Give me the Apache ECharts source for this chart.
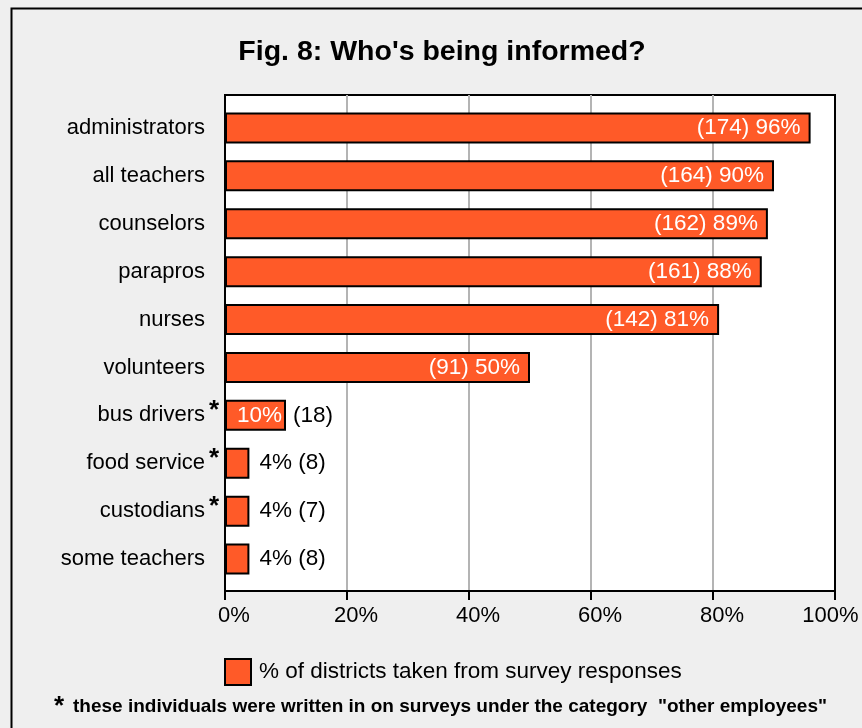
<!DOCTYPE html>
<html>
<head>
<meta charset="utf-8">
<script src="https://cdn.jsdelivr.net/npm/echarts@6/dist/echarts.min.js"></script>
<style>
  html, body { margin: 0; padding: 0; background: #EFEFEF; }
  #chart { width: 862px; height: 728px; }
</style>
</head>
<body>
<div id="chart"></div>
<script>
// Staff groups informed, top to bottom
const categories = ['administrators', 'all teachers', 'counselors', 'parapros', 'nurses',
  'volunteers', 'bus drivers', 'food service', 'custodians', 'some teachers'];
// Percent of districts
const percents = [96, 90, 89, 88, 81, 50, 10, 4, 4, 4];
// Number of districts
const counts = [174, 164, 162, 161, 142, 91, 18, 8, 7, 8];
// Groups written in under "other employees"
const writeIns = ['bus drivers', 'food service', 'custodians'];
const xTicks = [0, 20, 40, 60, 80, 100];

const FONT = '"Liberation Sans", Arial, sans-serif';
const BAR = '#FF5A28';

const chart = echarts.init(document.getElementById('chart'), null, { renderer: 'canvas' });

// Label text shown inside the bar and beside it
function insideText(i) {
  if (percents[i] >= 50) return '(' + counts[i] + ') ' + percents[i] + '%';
  if (percents[i] >= 10) return percents[i] + '%';
  return '';
}
function outsideText(i) {
  if (percents[i] >= 50) return '';
  if (percents[i] >= 10) return '(' + counts[i] + ')';
  return percents[i] + '% (' + counts[i] + ')';
}

const mainData = percents.map((v, i) => ({
  value: v,
  label: {
    show: insideText(i) !== '',
    position: 'insideRight',
    distance: percents[i] >= 50 ? 10 : 4,
    formatter: () => insideText(i)
  }
}));

const outsideData = percents.map((v, i) => ({
  value: v,
  label: {
    show: outsideText(i) !== '',
    position: 'right',
    distance: percents[i] >= 10 ? 7 : 10,
    formatter: () => outsideText(i)
  }
}));

const xMax = xTicks[xTicks.length - 1];

const option = {
  backgroundColor: '#EFEFEF',
  animation: false,
  textStyle: { fontFamily: FONT },
  title: {
    text: "Fig. 8: Who's being informed?",
    left: 437,
    textAlign: 'center',
    top: 33,
    textStyle: { fontFamily: FONT, fontSize: 28.5, fontWeight: 'bold', color: '#000' }
  },
  legend: {
    data: ['% of districts taken from survey responses'],
    left: 219,
    top: 653,
    icon: 'rect',
    itemWidth: 26,
    itemHeight: 26,
    itemStyle: { borderColor: '#000', borderWidth: 2 },
    textStyle: { fontFamily: FONT, fontSize: 22.5, color: '#000', padding: [0, 0, 0, 3] }
  },
  grid: [
    {
      // plot frame with value gridlines
      left: 225, top: 95, width: 610, height: 496,
      outerBoundsMode: 'none', containLabel: false,
      show: true, backgroundColor: '#FFFFFF', borderColor: '#000', borderWidth: 2
    },
    {
      // bar band area
      left: 225, top: 104, width: 610, height: 479,
      outerBoundsMode: 'none', containLabel: false
    }
  ],
  xAxis: [
    {
      gridIndex: 0, type: 'value', min: 0, max: xMax, interval: 20,
      axisLine: { show: true, lineStyle: { color: '#000', width: 2 } },
      axisTick: { show: true, length: 9, lineStyle: { color: '#000', width: 2 } },
      axisLabel: {
        formatter: v => xTicks.includes(v) ? (v === xMax ? '{e|' + v + '%}' : '{r|' + v + '%}') : '',
        margin: 14,
        rich: {
          r: { fontFamily: FONT, fontSize: 22, color: '#000', padding: [0, 0, 0, 18] },
          e: { fontFamily: FONT, fontSize: 22, color: '#000', padding: [0, 9, 0, 0] }
        }
      },
      splitLine: {
        show: true, showMinLine: false, showMaxLine: false,
        lineStyle: { color: '#B4B4B4', width: 2 }
      }
    },
    {
      gridIndex: 1, type: 'value', min: 0, max: xMax, show: false,
      splitLine: { show: false }
    }
  ],
  yAxis: [
    { gridIndex: 0, type: 'value', show: false, splitLine: { show: false } },
    {
      gridIndex: 1, type: 'category', data: categories, inverse: true,
      axisLine: { show: false }, axisTick: { show: false },
      axisLabel: {
        margin: 4,
        formatter: name => '{t|' + name + '}{s|' + (writeIns.includes(name) ? '*' : '') + '}',
        rich: {
          t: { fontFamily: FONT, fontSize: 22, color: '#000' },
          s: { fontFamily: FONT, fontSize: 26, fontWeight: 'bold', color: '#000', width: 14, align: 'left',
               verticalAlign: 'bottom', padding: [0, 0, 9, 2] }
        }
      }
    }
  ],
  series: [
    {
      name: '% of districts taken from survey responses',
      type: 'bar', xAxisIndex: 1, yAxisIndex: 1,
      data: mainData,
      barWidth: 31,
      itemStyle: { color: BAR, borderColor: '#000', borderWidth: 2 },
      label: { fontFamily: FONT, fontSize: 22.5, color: '#FFFFFF' },
      z: 3
    },
    {
      name: 'outside',
      type: 'bar', xAxisIndex: 1, yAxisIndex: 1,
      data: outsideData,
      barWidth: 31, barGap: '-100%',
      itemStyle: { color: 'rgba(0,0,0,0)' },
      label: { fontFamily: FONT, fontSize: 22.5, color: '#000' },
      z: 4, silent: true
    }
  ],
  graphic: [
    {
      type: 'rect', left: 9, top: 6, z: -10,
      shape: { width: 900, height: 800 },
      style: { fill: 'none', stroke: '#000', lineWidth: 2 }
    },
    {
      type: 'text', left: 54, top: 694,
      style: {
        text: '{a|*}{b|these individuals were written in on surveys under the category  "other employees"}',
        rich: {
          a: { fontFamily: FONT, fontSize: 26, fontWeight: 'bold', color: '#000', width: 19, verticalAlign: 'top' },
          b: { fontFamily: FONT, fontSize: 19, fontWeight: 'bold', color: '#000' }
        }
      }
    }
  ]
};

chart.setOption(option);
</script>
</body>
</html>
